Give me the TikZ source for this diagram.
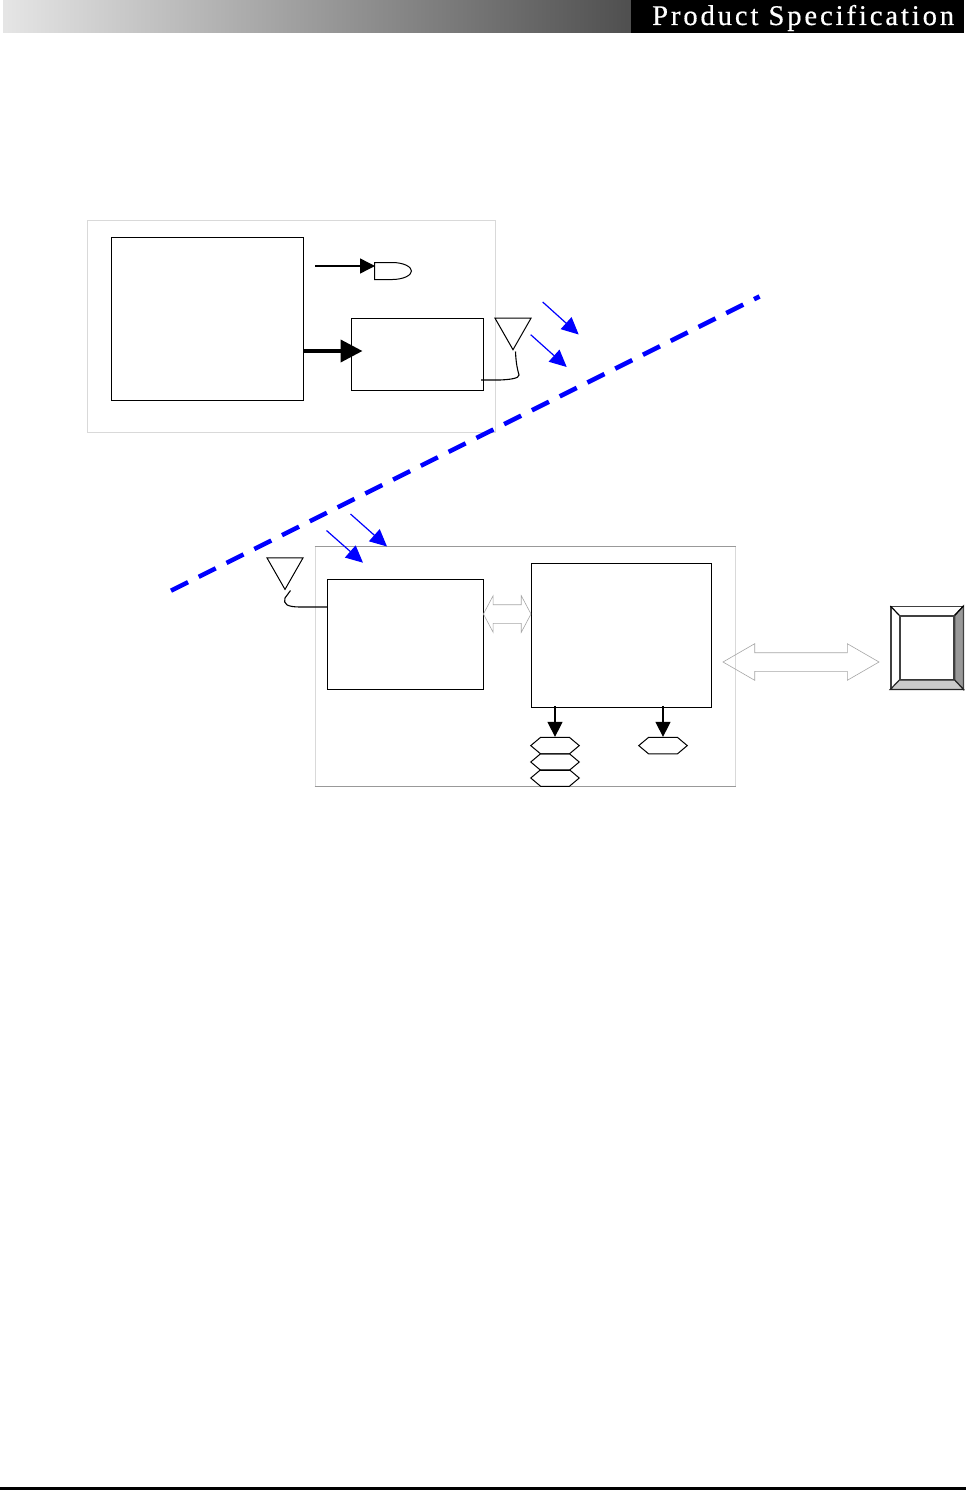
\documentclass[tikz,border=0pt]{standalone}
\usepackage{fontspec}
\setmainfont{Liberation Serif}
\usetikzlibrary{arrows.meta,shapes.geometric,shapes.symbols,shapes.arrows,calc}
\definecolor{wireblue}{RGB}{0,0,255}
\tikzset{
  x=1pt,y=-1pt,
  boxnode/.style={draw=black,line width=1pt,rectangle,inner sep=0pt,fill=none},
  framenode/.style={draw=black!15,line width=1pt,rectangle,inner sep=0pt},
  antenna/.style={draw=black,line width=1pt,isosceles triangle,isosceles triangle stretches,shape border rotate=270,inner sep=0pt,minimum width=36pt,minimum height=31.5pt},
  hexnode/.style={draw=black,line width=1pt,signal,signal to=east and west,signal pointer angle=80,inner sep=0pt,minimum width=48.5pt,minimum height=16.5pt},
  wire/.style={draw=black,line width=1.1pt},
  blackarrow/.style={draw=black,line width=1.4pt,-{Triangle[length=15pt,width=15pt]}},
  fatarrow/.style={draw=black,line width=4pt,-{Triangle[length=22pt,width=22pt]}},
  bluearrow/.style={draw=wireblue,line width=1.2pt,-{Triangle[length=17pt,width=16pt]}},
  linkarrow/.style={draw=black!35,line width=.6pt,double arrow,inner sep=0pt},
}
\begin{document}
\begin{tikzpicture}
\useasboundingbox (0,0) rectangle (966,1490);
\fill[white] (0,0) rectangle (966,1490);
% header
\fill[left color=black!10,right color=black!69] (3,0) rectangle (631,33);
\fill[black] (631,0) rectangle (964,33);
\node[anchor=base west,inner sep=0pt,text=white,font=\fontsize{28.5}{28.5}\selectfont\addfontfeatures{LetterSpace=10.3,FakeBold=0.6}] (title) at (652,25) {Product Specification};
% footer
\fill[black] (0,1487) rectangle (966,1490);
% frames
\node[framenode,minimum width=408pt,minimum height=212pt] (frameA) at (291,326.8) {};
\node[framenode,minimum width=420pt,minimum height=239.5pt] (frameB) at (525,666.25) {};
\draw[black!40,line width=.8pt] (frameB.north west) -- (frameB.north east);
\draw[black!40,line width=.8pt] (frameB.south west) -- (frameB.south east);
% boxes
\node[boxnode,minimum width=192.5pt,minimum height=163.5pt] (boxA) at (207.5,319) {};
\node[boxnode,minimum width=132pt,minimum height=71.7pt] (boxB) at (417.4,354.5) {};
\node[boxnode,minimum width=156pt,minimum height=110pt] (boxC) at (405.3,634.3) {};
\node[boxnode,minimum width=180.4pt,minimum height=144pt] (boxD) at (621.5,635.3) {};
% gate
\node[inner sep=0pt,minimum width=36.5pt,minimum height=16.6pt] (gate) at (393,271) {};
\draw[line width=1pt] (gate.north west) -- ($(gate.north west)+(18,0)$) .. controls ($(gate.east)+(-7,-8.3)$) and ($(gate.east)+(0,-4)$) .. (gate.east) .. controls ($(gate.east)+(0,4)$) and ($(gate.east)+(-7,8.3)$) .. ($(gate.south west)+(18,0)$) -- (gate.south west) -- cycle;
% antennas
\node[antenna,anchor=apex] (antA) at (513,351) {};
\node[antenna,anchor=apex] (antB) at (285,590.7) {};
% hexagons
\node[hexnode] (hexA) at (555,745.6) {};
\node[hexnode] (hexB) at (555,762) {};
\node[hexnode] (hexC) at (555,778) {};
\node[hexnode] (hexD) at (663,745.6) {};
% link arrows
\node[linkarrow,minimum width=36pt,minimum height=156pt,rotate=0,double arrow head extend=9pt,double arrow tip angle=60,inner ysep=9pt,text height=0pt,text depth=0pt] (linkBig) at (801,662) {};
\node[linkarrow,minimum width=36pt,minimum height=47.6pt,double arrow head extend=9pt,double arrow tip angle=124,inner ysep=9pt,text height=0pt,text depth=0pt] (linkSmall) at (507.2,614) {};
% bevel box
\node[draw=black!75,line width=1.5pt,rectangle,inner sep=0pt,minimum width=71.7pt,minimum height=82pt] (bevel) at (926.9,647.7) {};
\node[draw=black!75,line width=1.5pt,rectangle,inner sep=0pt,minimum width=54pt,minimum height=63.3pt] (bevelIn) at (927,647.7) {};
\filldraw[fill=black!40,draw=black!75,line width=1.2pt] (bevel.north east) -- (bevel.south east) -- (bevelIn.south east) -- (bevelIn.north east) -- cycle;
\filldraw[fill=black!20,draw=black!85,line width=1.2pt] (bevel.south west) -- (bevel.south east) -- (bevelIn.south east) -- (bevelIn.south west) -- cycle;
\draw[black,line width=1.2pt] (bevel.north west) -- (bevelIn.north west);
\draw[black,line width=1.2pt] (bevel.north east) -- (bevelIn.north east);
% black connectors
\coordinate (gateFrom) at (315,266);
\coordinate (gateTo) at (375,266);
\draw[blackarrow] (gateFrom) -- (gateTo);
\coordinate (fatFrom) at (304,351);
\coordinate (fatTo) at (362.5,351);
\draw[fatarrow] (fatFrom) -- (fatTo);
\draw[blackarrow] (hexA.north |- boxD.south) ++(0,-2) -- (hexA.north);
\draw[blackarrow] (hexD.north |- boxD.south) ++(0,-2) -- (hexD.north);
% antenna wires
\coordinate (wireAstart) at (481,380);
\draw[wire] (wireAstart) -- (500,380) .. controls (510,379.5) and (519,378.5) .. (519,375) .. controls (518,371) and (516,365) .. (515.5,351.5);
\coordinate (wireBstart) at (boxC.west |- 0,607);
\draw[wire] (wireBstart) -- (300,607) .. controls (287,607) and (283,604) .. (285,598) -- (290.5,590.5);
% radio path
\coordinate (dashA) at (171,590.7);
\coordinate (dashB) at (759.5,296.5);
\draw[wireblue,line width=4.5pt,dash pattern=on 19pt off 12.04pt] (dashA) -- (dashB);
\coordinate (b1a) at (542.7,302); \coordinate (b1b) at (578.7,334.5);
\coordinate (b2a) at (530.7,334.7); \coordinate (b2b) at (566.7,367);
\coordinate (b3a) at (350.5,514); \coordinate (b3b) at (387,546.5);
\coordinate (b4a) at (326.5,530.5); \coordinate (b4b) at (363,562.7);
\draw[bluearrow] (b1a) -- (b1b);
\draw[bluearrow] (b2a) -- (b2b);
\draw[bluearrow] (b3a) -- (b3b);
\draw[bluearrow] (b4a) -- (b4b);
\end{tikzpicture}
\end{document}
